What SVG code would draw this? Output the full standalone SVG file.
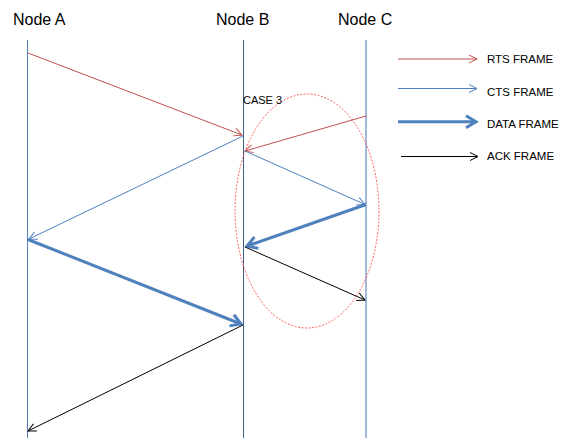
<svg xmlns="http://www.w3.org/2000/svg" width="565" height="438" viewBox="0 0 565 438">
<style>
.lbl{font-family:"Liberation Sans",Arial,sans-serif;fill:#000}
.node{font-size:16px}
.leg{font-size:11.5px}
.rts{stroke:#C0504D;stroke-width:1;fill:none}
.cts{stroke:#4F81BD;stroke-width:1;fill:none}
.data{stroke:#4F81BD;stroke-width:3;fill:none}
.ack{stroke:#000;stroke-width:1;fill:none}
</style>
<defs>
<marker id="mRts" markerUnits="userSpaceOnUse" markerWidth="20" markerHeight="20" viewBox="-10 -10 20 20" refX="0" refY="0" orient="auto"><path d="M-8,-4 L0,0 L-8,4" fill="none" stroke="#C0504D" stroke-width="1"/></marker>
<marker id="mCts" markerUnits="userSpaceOnUse" markerWidth="20" markerHeight="20" viewBox="-10 -10 20 20" refX="0" refY="0" orient="auto"><path d="M-8,-4 L0,0 L-8,4" fill="none" stroke="#4F81BD" stroke-width="1"/></marker>
<marker id="mAck" markerUnits="userSpaceOnUse" markerWidth="20" markerHeight="20" viewBox="-10 -10 20 20" refX="0" refY="0" orient="auto"><path d="M-8,-4 L0,0 L-8,4" fill="none" stroke="#000" stroke-width="1"/></marker>
<marker id="mData" markerUnits="userSpaceOnUse" markerWidth="30" markerHeight="30" viewBox="-15 -15 30 30" refX="0" refY="0" orient="auto"><path d="M-10,-6 L0,0 L-10,6" fill="none" stroke="#4F81BD" stroke-width="3" stroke-linejoin="miter"/></marker>
</defs>
<g id="nodeA"><text class="lbl node" x="13" y="25">Node A</text><line x1="27.5" y1="40" x2="27.5" y2="438" stroke="#4F81BD" stroke-width="1"/></g>
<g id="nodeB"><text class="lbl node" x="216" y="25">Node B</text><line x1="243.5" y1="40" x2="243.5" y2="438" stroke="#3E5F8A" stroke-width="1"/></g>
<g id="nodeC"><text class="lbl node" x="338" y="25">Node C</text><line x1="366" y1="40" x2="366" y2="438" stroke="#95B3D7" stroke-width="1.8"/></g>
<g id="case3">
<ellipse cx="307" cy="211" rx="72" ry="117" fill="none" stroke="#FF5B5B" stroke-width="1" stroke-dasharray="2 1.5"/>
<text class="lbl" x="243" y="103.5" font-size="11">CASE 3</text>
</g>
<g id="connectors">
<line class="rts" x1="28" y1="53" x2="242" y2="135" marker-end="url(#mRts)"/>
<line class="cts" x1="243" y1="136" x2="29" y2="239" marker-end="url(#mCts)"/>
<line class="rts" x1="366" y1="116" x2="245" y2="151" marker-end="url(#mRts)"/>
<line class="cts" x1="245" y1="151" x2="365" y2="204.5" marker-end="url(#mCts)"/>
<line class="data" x1="366" y1="204.5" x2="247" y2="246" marker-end="url(#mData)"/>
<line class="ack" x1="245" y1="247" x2="365" y2="300" marker-end="url(#mAck)"/>
<line class="data" x1="28" y1="239.5" x2="241" y2="324" marker-end="url(#mData)"/>
<line class="ack" x1="243" y1="325" x2="28" y2="431" marker-end="url(#mAck)"/>
</g>
<g id="legend">
<line class="rts" x1="398" y1="59" x2="477" y2="59" marker-end="url(#mRts)"/>
<text class="lbl leg" x="487" y="63">RTS FRAME</text>
<line class="cts" x1="398" y1="88.5" x2="477" y2="88.5" marker-end="url(#mCts)"/>
<text class="lbl leg" x="487" y="96">CTS FRAME</text>
<line class="data" x1="398" y1="121.7" x2="476" y2="121.7" marker-end="url(#mData)"/>
<text class="lbl leg" x="487" y="128">DATA FRAME</text>
<line class="ack" x1="401" y1="156.5" x2="478" y2="156.5" marker-end="url(#mAck)"/>
<text class="lbl leg" x="487" y="160">ACK FRAME</text>
</g>
</svg>
